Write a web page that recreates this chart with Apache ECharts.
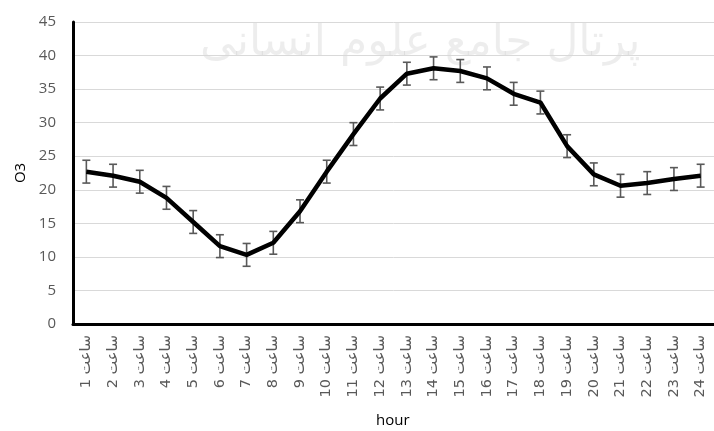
<!DOCTYPE html>
<html>
<head>
<meta charset="utf-8">
<script src="https://cdn.jsdelivr.net/npm/echarts@6/dist/echarts.min.js"></script>
<style>html,body{margin:0;padding:0;background:#fff}#c{width:714px;height:431px}</style>
</head>
<body>
<div id="c"></div>
<script>
const hours = [1,2,3,4,5,6,7,8,9,10,11,12,13,14,15,16,17,18,19,20,21,22,23,24];
const hourWord = 'ساعت';
const o3Values = [22.7,22.1,21.2,18.8,15.2,11.6,10.3,12.1,16.8,22.7,28.3,33.6,37.3,38.1,37.7,36.6,34.3,33.0,26.5,22.3,20.6,21.0,21.6,22.1];
const o3Errors = [1.7,1.7,1.7,1.7,1.7,1.7,1.7,1.7,1.7,1.7,1.7,1.7,1.7,1.7,1.7,1.7,1.7,1.7,1.7,1.7,1.7,1.7,1.7,1.7];
const yTicks = [0,5,10,15,20,25,30,35,40,45];

const categories = hours.map(h => '\u200E' + h + ' ' + hourWord);
const errData = o3Values.map((v, i) => [i, v - o3Errors[i], v + o3Errors[i]]);

const chart = echarts.init(document.getElementById('c'), null, {renderer: 'canvas'});
chart.setOption({
  animation: false,
  backgroundColor: '#fff',
  grid: {left: 73, right: -9.5, top: 22, bottom: 107, containLabel: false},
  xAxis: {
    type: 'category',
    data: categories,
    boundaryGap: true,
    axisLine: {show: true, lineStyle: {color: '#000', width: 3}},
    axisTick: {show: false},
    axisLabel: {interval: 0, rotate: 90, margin: 11, color: '#595959', fontSize: 14.5, fontFamily: 'DejaVu Sans'},
    splitLine: {show: false}
  },
  yAxis: {
    type: 'value',
    min: yTicks[0], max: yTicks[yTicks.length - 1], interval: 5,
    axisLine: {show: true, lineStyle: {color: '#000', width: 3}},
    axisTick: {show: false},
    axisLabel: {margin: 17, color: '#595959', fontSize: 15, fontFamily: 'Open Sans'},
    splitLine: {show: true, lineStyle: {color: '#d9d9d9', width: 1}},
    name: 'O3', nameLocation: 'middle', nameRotate: 90, nameGap: 35,
    nameTextStyle: {color: '#000', fontSize: 15, fontFamily: 'Open Sans'}
  },
  graphic: [
    {type: 'text', left: 200, top: 22, z: -1, silent: true,
     style: {text: 'پرتال جامع علوم انسانی', font: '44px "DejaVu Sans"', fill: 'rgba(0,0,0,0.07)'}},
    {type: 'text', left: 376, top: 413,
     style: {text: 'hour', font: '15px "Open Sans"', fill: '#000'}}
  ],
  series: [
    {
      type: 'custom',
      data: errData,
      z: 2,
      renderItem: function (params, api) {
        const x = api.value(0);
        const lo = api.coord([x, api.value(1)]);
        const hi = api.coord([x, api.value(2)]);
        const w = 4;
        const st = {stroke: '#595959', lineWidth: 1.6};
        return {type: 'group', children: [
          {type: 'line', shape: {x1: lo[0], y1: lo[1], x2: hi[0], y2: hi[1]}, style: st},
          {type: 'line', shape: {x1: lo[0]-w, y1: lo[1], x2: lo[0]+w, y2: lo[1]}, style: st},
          {type: 'line', shape: {x1: hi[0]-w, y1: hi[1], x2: hi[0]+w, y2: hi[1]}, style: st}
        ]};
      }
    },
    {
      type: 'line',
      data: o3Values,
      z: 3,
      symbol: 'none',
      lineStyle: {color: '#000', width: 4.5, join: 'round'}
    }
  ]
});
</script>
</body>
</html>
